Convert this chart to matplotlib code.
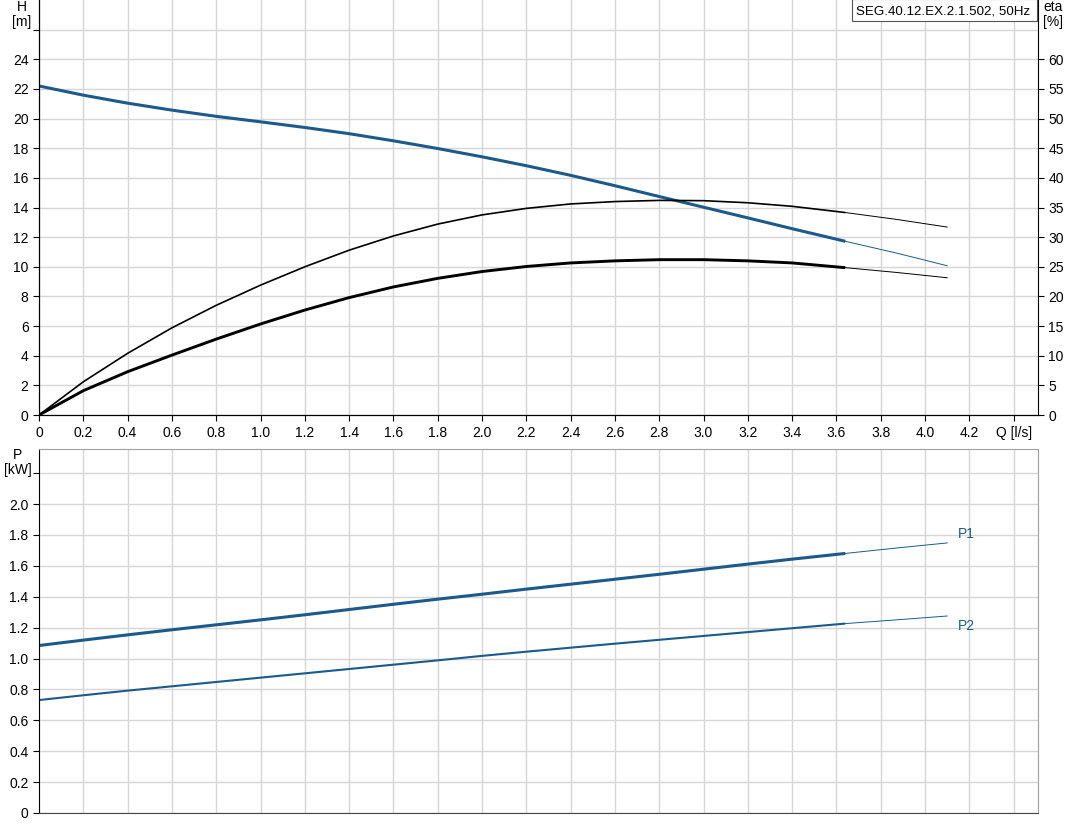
import matplotlib
matplotlib.use('Agg')
import matplotlib.pyplot as plt
from matplotlib.patches import Rectangle

plt.rcParams['font.family'] = ['Liberation Sans', 'DejaVu Sans']
plt.rcParams['font.size'] = 10

# flow points along the curves [l/s]
q = [0, 0.2, 0.4, 0.6, 0.8, 1.0, 1.2, 1.4, 1.6, 1.8, 2.0, 2.2, 2.4, 2.6, 2.8, 3.0, 3.2, 3.4, 3.64]
q_ext = [3.64, 3.87, 4.1]

# head [m]
head = [22.2, 21.58, 21.04, 20.57, 20.15, 19.78, 19.4, 18.98, 18.5, 17.98, 17.42, 16.82,
        16.17, 15.47, 14.74, 14.02, 13.3, 12.57, 11.72]
head_ext = [11.72, 10.93, 10.07]

# efficiencies [%]
eta_hyd = [0, 5.6, 10.4, 14.7, 18.5, 21.9, 25.0, 27.8, 30.2, 32.2, 33.75, 34.85, 35.6,
           36.0, 36.2, 36.15, 35.8, 35.2, 34.15]
eta_hyd_ext = [34.15, 33.0, 31.7]
eta_tot = [0, 4.1, 7.3, 10.1, 12.8, 15.35, 17.7, 19.8, 21.6, 23.05, 24.2, 25.05, 25.65,
           26.0, 26.2, 26.2, 26.0, 25.65, 24.85]
eta_tot_ext = [24.85, 24.05, 23.15]

# power [kW]
p1 = [1.084, 1.119, 1.153, 1.186, 1.218, 1.25, 1.283, 1.317, 1.351, 1.384, 1.416, 1.449,
      1.481, 1.513, 1.545, 1.578, 1.611, 1.643, 1.68]
p1_ext = [1.68, 1.715, 1.748]
p2 = [0.731, 0.762, 0.792, 0.82, 0.848, 0.876, 0.904, 0.932, 0.96, 0.988, 1.017, 1.044,
      1.07, 1.096, 1.121, 1.146, 1.171, 1.196, 1.226]
p2_ext = [1.226, 1.25, 1.275]

title = 'SEG.40.12.EX.2.1.502, 50Hz'
blue = '#1b5a8b'
grid_c = '#d6d6d6'

W, H = 1071, 833
fig = plt.figure(figsize=(W / 100, H / 100), dpi=100)
fig.patch.set_facecolor('white')

def px(x0, y0, x1, y1):
    return [x0 / W, 1 - y1 / H, (x1 - x0) / W, (y1 - y0) / H]

xmax = 4.51
xt = [round(0.2 * i, 1) for i in range(23)]

# ---- top: head / efficiency ----
ax = fig.add_axes(px(39, 0, 1038, 415))
ax.set_xlim(0, xmax)
ax.set_ylim(0, 28)
ax.set_xticks(xt)
xl = ['0' if v == 0 else '%.1f' % v for v in xt]
xl[-1] = 'Q [l/s]'
ax.set_xticklabels(xl)
ax.set_yticks(range(0, 27, 2))
ax.set_yticklabels([str(v) for v in range(0, 25, 2)] + [''])
ax.grid(True, color=grid_c, lw=1)
ax.set_axisbelow(True)
ax.tick_params(direction='out', length=4, colors='black', labelsize=10)
ax.tick_params(axis='x', pad=4)
ax.spines['top'].set_visible(False)
ax.spines['right'].set_visible(False)

ax2 = ax.twinx()
ax2.set_ylim(0, 70)
ax2.set_yticks(range(0, 61, 5))
ax2.tick_params(direction='out', length=4, labelsize=10)
ax2.spines['top'].set_visible(False)
ax2.spines['right'].set_color('black')

ax2.plot(q, eta_hyd, color='black', lw=1.2, solid_capstyle='butt', solid_joinstyle='round')
ax2.plot(q_ext, eta_hyd_ext, color='black', lw=0.7)
ax2.plot(q, eta_tot, color='black', lw=2.1, solid_capstyle='butt', solid_joinstyle='round')
ax2.plot(q_ext, eta_tot_ext, color='black', lw=0.7)
ax.plot(q, head, color=blue, lw=2.2, solid_capstyle='butt', solid_joinstyle='round', zorder=5)
ax.plot(q_ext, head_ext, color=blue, lw=0.7, zorder=5)

# title box
fig.patches.append(Rectangle((852 / W, 1 - 21 / H), 185 / W, 22 / H, transform=fig.transFigure,
                             fc='white', ec='#555555', lw=0.8, zorder=10))
fig.text(856 / W, 1 - 11 / H, title, ha='left', va='center', fontsize=9.6, zorder=11)

fig.text(22 / W, 1 - 7 / H, 'H', ha='center', va='center', fontsize=10)
fig.text(22 / W, 1 - 22 / H, '[m]', ha='center', va='center', fontsize=10)
fig.text(1053 / W, 1 - 7 / H, 'eta', ha='center', va='center', fontsize=10)
fig.text(1053 / W, 1 - 22 / H, '[%]', ha='center', va='center', fontsize=10)

# ---- bottom: power ----
bx = fig.add_axes(px(39, 449, 1038, 813))
bx.set_xlim(0, xmax)
bx.set_ylim(0, 2.356)
bx.set_xticks(xt)
bx.set_xticklabels([])
bx.tick_params(axis='x', length=0)
yt = [round(0.2 * i, 1) for i in range(12)]
bx.set_yticks(yt)
yl = ['0' if v == 0 else '%.1f' % v for v in yt]
yl[-1] = ''
bx.set_yticklabels(yl)
bx.tick_params(axis='y', direction='out', length=4, labelsize=10)
bx.grid(True, color=grid_c, lw=1)
bx.set_axisbelow(True)
for s in ['top', 'right']:
    bx.spines[s].set_color('#a0a0a0')
bx.spines['bottom'].set_color('#444444')

bx.plot(q, p1, color=blue, lw=2.2, solid_capstyle='butt', solid_joinstyle='round')
bx.plot(q_ext, p1_ext, color=blue, lw=0.7)
bx.plot(q, p2, color=blue, lw=1.5, solid_capstyle='butt', solid_joinstyle='round')
bx.plot(q_ext, p2_ext, color=blue, lw=0.7)
bx.text(4.185, 1.806, 'P1', color=blue, ha='center', va='center', fontsize=10)
bx.text(4.185, 1.21, 'P2', color=blue, ha='center', va='center', fontsize=10)

fig.text(18 / W, 1 - 455 / H, 'P', ha='center', va='center', fontsize=10)
fig.text(18 / W, 1 - 470 / H, '[kW]', ha='center', va='center', fontsize=10)

fig.savefig('out.png', dpi=100)
